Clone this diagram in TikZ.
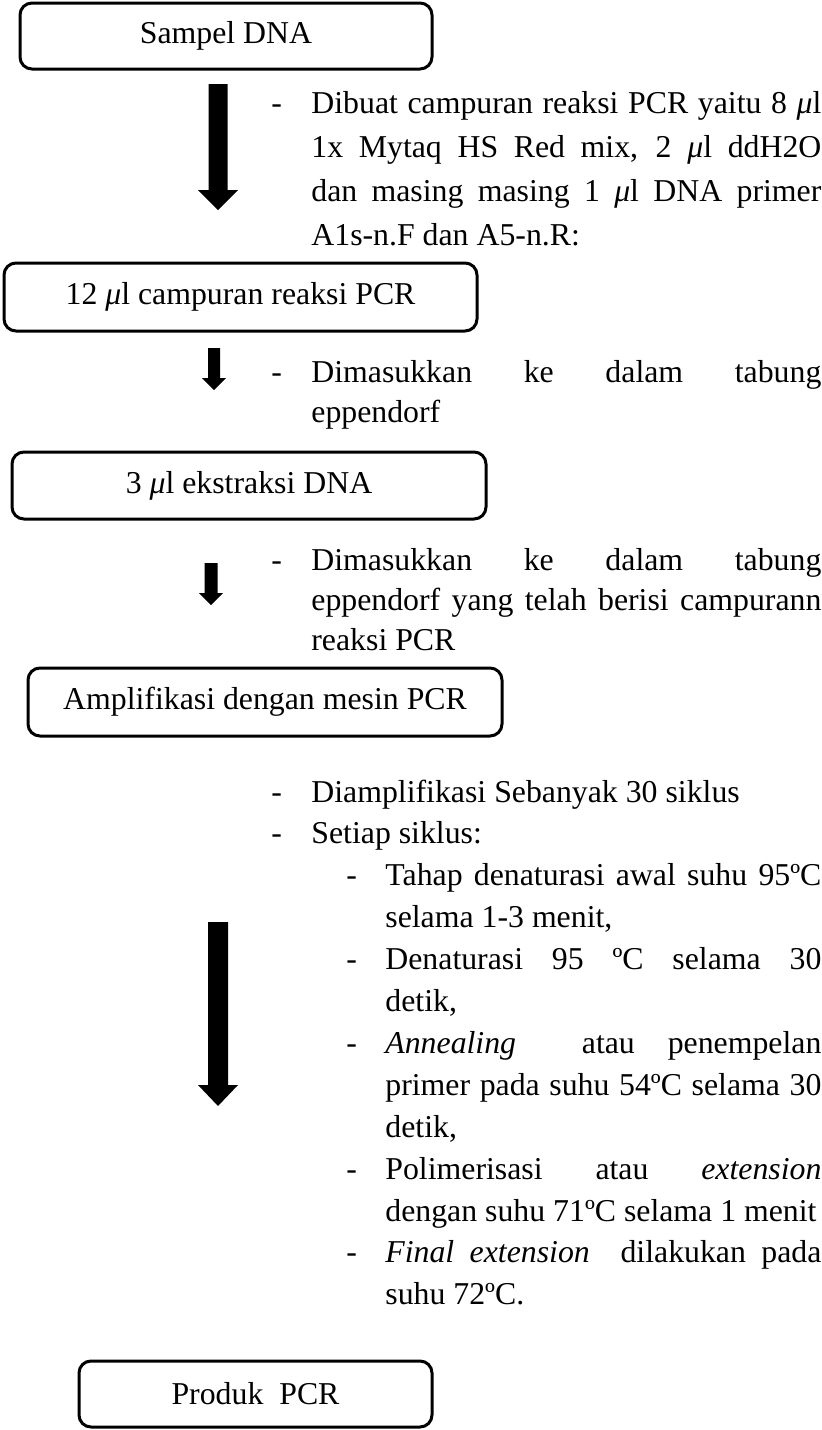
\documentclass[tikz,border=0pt]{standalone}
\usepackage{fontspec}
\setmainfont{Liberation Serif}
\newcommand\fs{\fontsize{15.9pt}{20.9pt}\selectfont}
\newcommand\mul{{\itshape μ}l}
\newcommand\blockarrow[6]{\fill[black] (#1-#5,#2) -- (#1+#5,#2) -- (#1+#5,#3) -- (#1+#6,#3) -- (#1,#4) -- (#1-#6,#3) -- (#1-#5,#3) -- cycle;}
\newcommand\paraA[2]{\parbox[t]{255pt}{\fs\baselineskip=#1\tolerance=10000\hyphenpenalty=10000\relax #2}}
\newcommand\paraB[1]{\parbox[t]{218pt}{\fs\baselineskip=20.95pt\tolerance=10000\hyphenpenalty=10000\relax #1}}
\tikzset{
  box/.style={draw, line width=1.5pt, rounded corners=6pt, inner sep=0pt, font=\fs},
  para/.style={anchor=base west, inner sep=0pt},
  dashmark/.style={anchor=base west, inner sep=0pt, font=\fs},
}
\begin{document}
\begin{tikzpicture}[x=0.5pt,y=-0.5pt]
\useasboundingbox (0,0) rectangle (822,1430);

% boxes
\node[box, minimum width=206pt, minimum height=33pt] (b1) at (226,36) {Sampel DNA};
\node[box, minimum width=236.5pt, minimum height=34pt] (b2) at (240.5,297) {12 \mul\ campuran reaksi PCR};
\node[box, minimum width=237pt, minimum height=33.5pt] (b3) at (249,485.5) {3 \mul\ ekstraksi DNA};
\node[box, minimum width=237pt, minimum height=34pt] (b4) at (265,702) {Amplifikasi dengan mesin PCR};
\node[box, minimum width=176.5pt, minimum height=33pt] (b5) at (255.5,1394) {Produk\ \ PCR};

% block arrows
\blockarrow{218}{84}{190}{210}{9.5}{20}
\blockarrow{214}{348}{378}{390}{6}{12}
\blockarrow{211}{563}{593}{605}{6.5}{12}
\blockarrow{218}{922}{1085}{1106}{10}{20}

% text block 1
\node[dashmark] (d1) at (271,113) {-};
\node[para] (t1) at (311,113) {\paraA{22pt}{Dibuat campuran reaksi PCR yaitu 8 \mul\linebreak 1x Mytaq HS Red mix, 2 \mul\ ddH2O\linebreak dan masing masing 1 \mul\ DNA primer\linebreak A1s-n.F dan A5-n.R:}};

% text block 2
\node[dashmark] (d2) at (271,382) {-};
\node[para] (t2) at (311,382) {\paraA{20pt}{Dimasukkan ke dalam tabung\linebreak eppendorf}};

% text block 3
\node[dashmark] (d3) at (271,570) {-};
\node[para] (t3) at (311,570) {\paraA{20pt}{Dimasukkan ke dalam tabung\linebreak eppendorf yang telah berisi campurann\linebreak reaksi PCR}};

% text block 4
\node[dashmark] (d4a) at (271,802) {-};
\node[para] (t4a) at (311,802) {\paraA{20.95pt}{Diamplifikasi Sebanyak 30 siklus}};
\node[dashmark] (d4b) at (271,843.9) {-};
\node[para] (t4b) at (311,843.9) {\paraA{20.95pt}{Setiap siklus:}};

\node[dashmark] (e1) at (346,885.8) {-};
\node[para] (s1) at (385,885.8) {\paraB{Tahap denaturasi awal suhu 95ºC\linebreak selama 1-3 menit,}};
\node[dashmark] (e2) at (346,969.6) {-};
\node[para] (s2) at (385,969.6) {\paraB{Denaturasi 95 ºC selama 30\linebreak detik,}};
\node[dashmark] (e3) at (346,1053.4) {-};
\node[para] (s3) at (385,1053.4) {\paraB{\textit{Annealing}\ \ atau penempelan\linebreak primer pada suhu 54ºC selama 30\linebreak detik,}};
\node[dashmark] (e4) at (346,1179.1) {-};
\node[para] (s4) at (385,1179.1) {\paraB{Polimerisasi atau \textit{extension}\linebreak dengan suhu 71ºC selama 1 menit}};
\node[dashmark] (e5) at (346,1262.9) {-};
\node[para] (s5) at (385,1262.9) {\paraB{\textit{Final extension}\ \ dilakukan pada\linebreak suhu 72ºC.}};
\end{tikzpicture}
\end{document}
